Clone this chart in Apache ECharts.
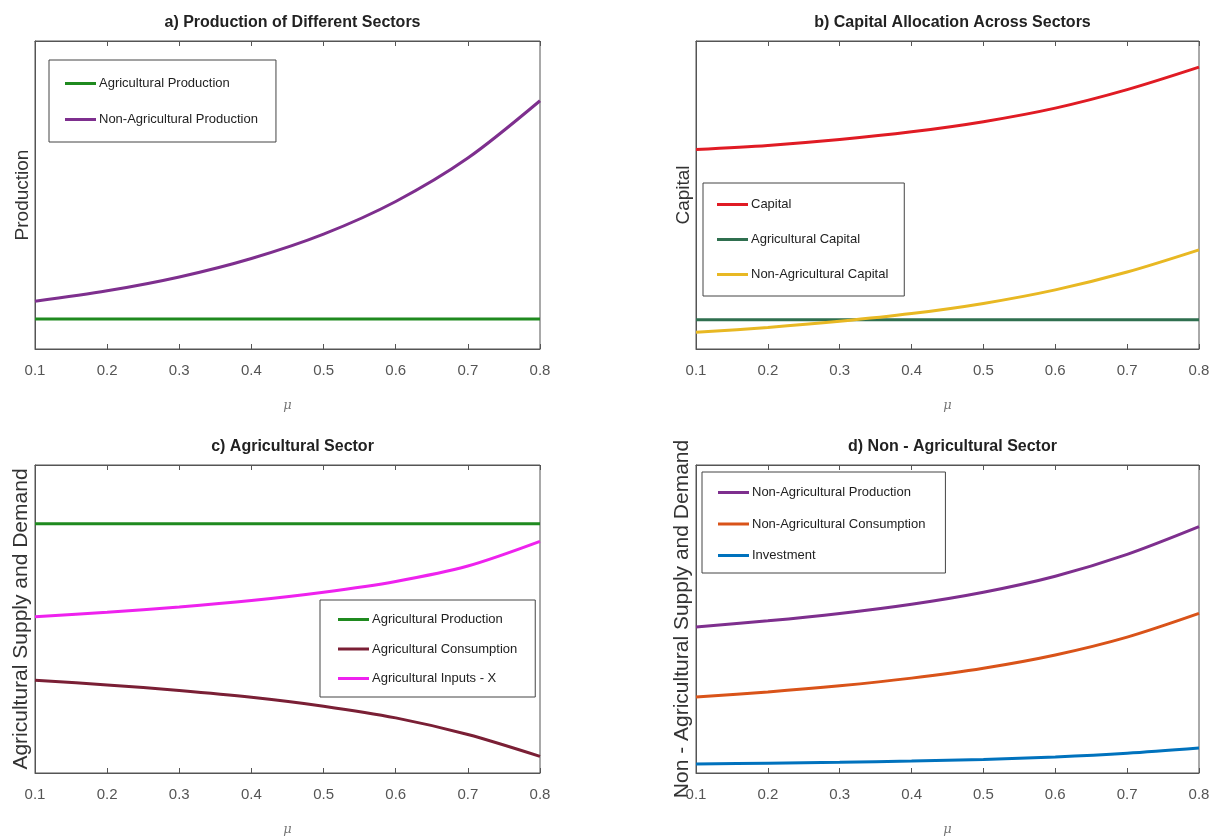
<!DOCTYPE html>
<html>
<head>
<meta charset="utf-8">
<script src="https://cdn.jsdelivr.net/npm/echarts@6/dist/echarts.min.js"></script>
<style>
html, body { margin: 0; padding: 0; background: #fff; }
#main { width: 1216px; height: 837px; }
</style>
</head>
<body>
<div id="main"></div>
<script>
// mu values, shared by every panel
var mu = [0.1, 0.2, 0.3, 0.4, 0.5, 0.6, 0.7, 0.8];

// a) Production of Different Sectors
var agriProd = [0.097, 0.097, 0.097, 0.097, 0.097, 0.097, 0.097, 0.097];
var nonAgriProd = [0.155, 0.189, 0.234, 0.294, 0.373, 0.479, 0.620, 0.806];

// b) Capital Allocation Across Sectors
var capital = [0.648, 0.661, 0.680, 0.705, 0.738, 0.782, 0.842, 0.915];
var agriCapital = [0.095, 0.095, 0.095, 0.095, 0.095, 0.095, 0.095, 0.095];
var nonAgriCapital = [0.054, 0.070, 0.090, 0.115, 0.148, 0.192, 0.250, 0.322];

// c) Agricultural Sector
var agriProdC = [0.809, 0.809, 0.809, 0.809, 0.809, 0.809, 0.809, 0.809];
var agriCons = [0.301, 0.286, 0.268, 0.246, 0.217, 0.179, 0.125, 0.054];
var agriInputs = [0.507, 0.522, 0.539, 0.560, 0.587, 0.622, 0.672, 0.752];

// d) Non - Agricultural Sector
var nonAgriProdD = [0.474, 0.494, 0.518, 0.548, 0.587, 0.639, 0.710, 0.800];
var nonAgriCons = [0.247, 0.263, 0.283, 0.308, 0.340, 0.383, 0.441, 0.518];
var investment = [0.029, 0.032, 0.035, 0.039, 0.044, 0.052, 0.064, 0.081];

var xTicks = ['0.1', '0.2', '0.3', '0.4', '0.5', '0.6', '0.7', '0.8'];

var narrow = '"Liberation Sans Narrow", "Arial Narrow", "Liberation Sans", sans-serif';
var axisCol = '#555';

function pairs(ys) {
	var out = [];
	for (var i = 0; i < mu.length; i++) {
		out.push([mu[i], ys[i]]);
	}
	return out;
}

var panels = [
	{ title: 'a) Production of Different Sectors', ylabel: 'Production', ysize: 19,
	  grid: { left: 35, top: 41, width: 505, height: 308 },
	  legend: { left: 49, top: 60, gap: 23, pad: [17, 18, 16, 16] },
	  series: [
		{ name: 'Agricultural Production', data: agriProd, color: '#1f8a1f' },
		{ name: 'Non-Agricultural Production', data: nonAgriProd, color: '#7e2f8e' }
	  ] },
	{ title: 'b) Capital Allocation Across Sectors', ylabel: 'Capital', ysize: 19,
	  grid: { left: 696, top: 41, width: 503, height: 308 },
	  legend: { left: 703, top: 183, gap: 22, pad: [15, 16, 15, 14] },
	  series: [
		{ name: 'Capital', data: capital, color: '#e01b24' },
		{ name: 'Agricultural Capital', data: agriCapital, color: '#2f6f4f' },
		{ name: 'Non-Agricultural Capital', data: nonAgriCapital, color: '#e8b823' }
	  ] },
	{ title: 'c) Agricultural Sector', ylabel: 'Agricultural Supply and Demand', ysize: 21,
	  grid: { left: 35, top: 465, width: 505, height: 309 },
	  legend: { left: 320, top: 600, gap: 16.5, pad: [13, 18, 12, 18] },
	  series: [
		{ name: 'Agricultural Production', data: agriProdC, color: '#1f8a1f' },
		{ name: 'Agricultural Consumption', data: agriCons, color: '#7a1f35' },
		{ name: 'Agricultural Inputs - X', data: agriInputs, color: '#ee22ee' }
	  ] },
	{ title: 'd) Non - Agricultural Sector', ylabel: 'Non - Agricultural Supply and Demand', ysize: 21,
	  grid: { left: 696, top: 465, width: 503, height: 309 },
	  legend: { left: 702, top: 472, gap: 18.5, pad: [14, 20, 11, 16] },
	  series: [
		{ name: 'Non-Agricultural Production', data: nonAgriProdD, color: '#7e2f8e' },
		{ name: 'Non-Agricultural Consumption', data: nonAgriCons, color: '#d95319' },
		{ name: 'Investment', data: investment, color: '#0072bd' }
	  ] }
];

var option = {
	animation: false,
	backgroundColor: '#fff',
	title: [],
	grid: [],
	xAxis: [],
	yAxis: [],
	legend: [],
	series: []
};

panels.forEach(function(p, i) {
	var g = p.grid;
	var tag = '\u200b'.repeat(i); // keeps legend names apart between panels
	option.title.push({
		text: p.title,
		left: g.left + g.width / 2,
		top: g.top - 31,
		textAlign: 'center',
		textStyle: { fontFamily: narrow, fontSize: 16, fontWeight: 'bold', color: '#222' }
	});
	option.grid.push({
		left: g.left, top: g.top, width: g.width, height: g.height,
		show: true, borderColor: axisCol, borderWidth: 1, backgroundColor: '#fff'
	});
	// bottom axis with labels
	option.xAxis.push({
		type: 'value', gridIndex: i, min: 0.1, max: 0.8, interval: 0.1,
		name: 'μ', nameLocation: 'middle', nameGap: 50,
		nameTextStyle: { fontFamily: '"DejaVu Serif", serif', fontStyle: 'italic', fontSize: 13, color: '#777' },
		axisLine: { show: true, lineStyle: { color: axisCol } },
		axisTick: { show: true, inside: true, length: 5, lineStyle: { color: axisCol } },
		axisLabel: { margin: 14, fontFamily: narrow, fontSize: 15, color: '#555',
			formatter: function(v) { return xTicks[Math.round(v * 10) - 1]; } },
		splitLine: { show: false }
	});
	// top axis, ticks only
	option.xAxis.push({
		type: 'value', gridIndex: i, position: 'top', min: 0.1, max: 0.8, interval: 0.1,
		axisLine: { show: true, lineStyle: { color: axisCol } },
		axisTick: { show: true, inside: true, length: 5, lineStyle: { color: axisCol } },
		axisLabel: { show: false },
		splitLine: { show: false }
	});
	option.yAxis.push({
		type: 'value', gridIndex: i, min: 0, max: 1,
		name: p.ylabel, nameLocation: 'middle', nameGap: 3,
		nameTextStyle: { fontFamily: '"Liberation Sans", Arial, sans-serif', fontSize: p.ysize, color: '#333' },
		axisLine: { show: true, lineStyle: { color: axisCol } },
		axisTick: { show: false },
		axisLabel: { show: false },
		splitLine: { show: false }
	});
	var names = [];
	p.series.forEach(function(s) {
		names.push(s.name + tag);
		option.series.push({
			name: s.name + tag,
			type: 'line',
			xAxisIndex: i * 2,
			yAxisIndex: i,
			data: pairs(s.data),
			smooth: 0.3,
			showSymbol: false,
			lineStyle: { width: 3, color: s.color },
			itemStyle: { color: s.color }
		});
	});
	option.legend.push({
		orient: 'vertical',
		left: p.legend.left,
		top: p.legend.top,
		data: names,
		formatter: function(n) { return n.replace(/\u200b/g, ''); },
		icon: 'rect',
		itemWidth: 31,
		itemHeight: 3,
		itemGap: p.legend.gap,
		padding: p.legend.pad,
		borderColor: '#444',
		borderWidth: 1,
		backgroundColor: '#fff',
		selectedMode: false,
		textStyle: { fontFamily: narrow, fontSize: 13, color: '#222', padding: [0, 0, 0, -2] }
	});
});

var chart = echarts.init(document.getElementById('main'));
chart.setOption(option);
</script>
</body>
</html>
